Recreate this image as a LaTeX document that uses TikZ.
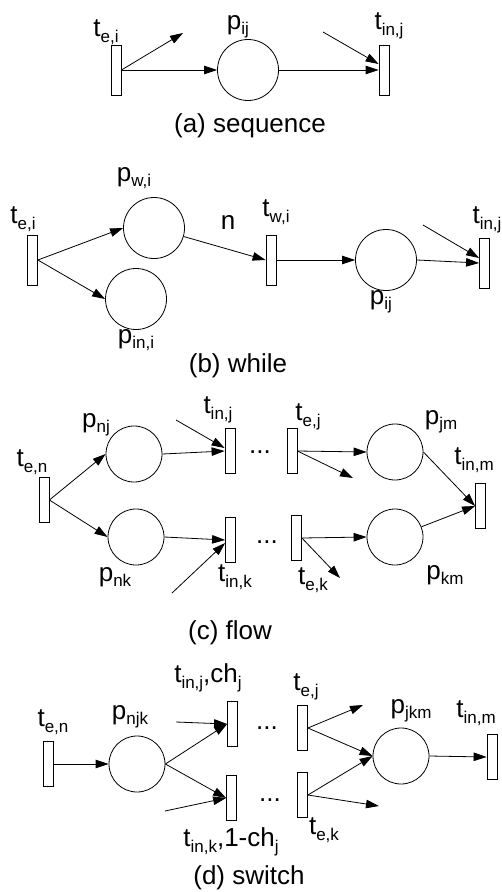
\documentclass[tikz,border=0pt]{standalone}
\usepackage{fontspec}
\setmainfont{Liberation Sans}
\usetikzlibrary{arrows.meta,calc}
\newcommand\sbs[1]{\raisebox{-5.5pt}{\fontsize{17}{17}\selectfont #1}}
\begin{document}
\begin{tikzpicture}[x=1pt,y=-1pt,
  tr/.style={draw, fill=white, line width=0.8pt, minimum width=10pt, minimum height=50pt, inner sep=0pt},
  trs/.style={tr, minimum height=45pt},
  pl/.style={draw, circle, line width=0.8pt, minimum size=61pt, inner sep=0pt},
  pls/.style={pl, minimum size=56pt},
  arr/.style={-{Triangle[length=13pt,width=8.5pt]}, line width=0.8pt},
  lbl/.style={font=\fontsize{26}{30}\selectfont, inner sep=0pt},
  dots/.style={font=\fontsize{26}{30}\selectfont, inner sep=0pt, anchor=base}]
\useasboundingbox (0,0) rectangle (502,892);
% (a)
\node[tr] (a1) at (116,70) {};
\node[pl] (a2) at (248,70) {};
\node[tr] (a3) at (384,70) {};
\coordinate (a1o) at (183,33);
\coordinate (a3i) at (323,32);
\draw[arr] (a1.east) -- (a1o);
\draw[arr] (a1.east) -- (a2.west);
\draw[arr] (a2.east) -- (a3.west);
\draw[arr] (a3i) -- ($(a3.west)+(0,-6)$);
\node[lbl] (a1l) at (106,32) {t\sbs{e,i}};
\node[lbl] (a2l) at (238,27) {p\sbs{ij}};
\node[lbl] (a3l) at (389,26) {t\sbs{in,j}};
\node[lbl] (acap) at (250,126) {(a) sequence};
% (b)
\node[tr] (b1) at (32.5,260) {};
\node[pl] (b2) at (154,228) {};
\node[pl] (b3) at (136,299) {};
\node[tr] (b4) at (271,260) {};
\node[pl] (b5) at (386,260) {};
\node[tr] (b6) at (484.5,263) {};
\coordinate (b6i) at (423,225);
\draw[arr] (b1.east) -- (b2.west);
\draw[arr] (b1.east) -- (b3.west);
\draw[arr] (b2) -- (b4.west);
\draw[arr] (b4.east) -- (b5.west);
\draw[arr] (b5.east) -- (b6.west);
\draw[arr] (b6i) -- ($(b6.west)+(0,-5)$);
\node[lbl] (b1l) at (23,219) {t\sbs{e,i}};
\node[lbl] (b2l) at (134,178) {p\sbs{w,i}};
\node[lbl] (b3l) at (136,340) {p\sbs{in,i}};
\node[lbl] (bn) at (228,222) {n};
\node[lbl] (b4l) at (276,212) {t\sbs{w,i}};
\node[lbl] (b5l) at (381,302) {p\sbs{ij}};
\node[lbl] (b6l) at (487,220) {t\sbs{in,j}};
\node[lbl] (bcap) at (238,366) {(b) while};
% (c)
\node[trs] (c1) at (44,500) {};
\node[pls] (c2) at (134,454) {};
\node[pls] (c3) at (136,537) {};
\node[trs] (c4) at (230,451) {};
\node[trs] (c5) at (230.5,540) {};
\node[trs] (c6) at (292,451) {};
\node[trs] (c7) at (296.5,538) {};
\node[pls] (c8) at (395,452) {};
\node[pls] (c9) at (395,537) {};
\node[trs] (c10) at (480.5,506) {};
\coordinate (c4i) at (176,420);
\coordinate (c5i) at (172,593);
\coordinate (c6o) at (353,478);
\coordinate (c7o) at (340,578);
\draw[arr] (c1.east) -- (c2.west);
\draw[arr] (c1.east) -- (c3.west);
\draw[arr] (c2.east) -- (c4.west);
\draw[arr] (c4i) -- ($(c4.west)+(0,-3)$);
\draw[arr] (c3.east) -- (c5.west);
\draw[arr] (c5i) -- ($(c5.west)+(0,3)$);
\draw[arr] (c6.east) -- (c8.west);
\draw[arr] (c6.east) -- (c6o);
\draw[arr] (c7.east) -- (c9.west);
\draw[arr] (c7.east) -- (c7o);
\draw[arr] (c8.east) -- (c10.west);
\draw[arr] (c9) -- (c10.west);
\node[dots] (cd1) at (260,453) {...};
\node[dots] (cd2) at (267,543) {...};
\node[lbl] (c1l) at (32,462) {t\sbs{e,n}};
\node[lbl] (c2l) at (96,425) {p\sbs{nj}};
\node[lbl] (c3l) at (115,577) {p\sbs{nk}};
\node[lbl] (c4l) at (218,410) {t\sbs{in,j}};
\node[lbl] (c5l) at (235,577) {t\sbs{in,k}};
\node[lbl] (c6l) at (308,417) {t\sbs{e,j}};
\node[lbl] (c7l) at (313,580) {t\sbs{e,k}};
\node[lbl] (c8l) at (441,422) {p\sbs{jm}};
\node[lbl] (c9l) at (445,575) {p\sbs{km}};
\node[lbl] (c10l) at (474,460) {t\sbs{in,m}};
\node[lbl] (ccap) at (230,633) {(c) flow};
% (d)
\node[trs] (d1) at (48.5,764) {};
\node[pls] (d2) at (137,764) {};
\node[trs] (d3) at (232.5,724) {};
\node[trs] (d4) at (231.5,798) {};
\node[trs] (d5) at (302.5,728) {};
\node[trs] (d6) at (302.5,795) {};
\node[pls] (d7) at (401,756) {};
\node[trs] (d8) at (492,757) {};
\coordinate (d3i) at (176,722);
\coordinate (d4i) at (165,811);
\coordinate (d5o) at (363,705);
\coordinate (d6o) at (379,806);
\draw[arr] (d1.east) -- (d2.west);
\draw[arr] (d2.east) -- (d3.west);
\draw[arr] (d2.east) -- (d4.west);
\draw[arr] (d3i) -- (d3.west);
\draw[arr] (d4i) -- (d4.west);
\draw[arr] (d5.east) -- (d5o);
\draw[arr] (d5.east) -- (d7.west);
\draw[arr] (d6.east) -- (d7.west);
\draw[arr] (d6.east) -- (d6o);
\draw[arr] (d7.east) -- (d8.west);
\node[dots] (dd1) at (267,729) {...};
\node[dots] (dd2) at (270,801) {...};
\node[lbl] (d1l) at (53,722) {t\sbs{e,n}};
\node[lbl] (d2l) at (130,717) {p\sbs{njk}};
\node[lbl] (d3l) at (208,678) {t\sbs{in,j},ch\sbs{j}};
\node[lbl] (d4l) at (231,842) {t\sbs{in,k},1-ch\sbs{j}};
\node[lbl] (d5l) at (306,687) {t\sbs{e,j}};
\node[lbl] (d6l) at (324,830) {t\sbs{e,k}};
\node[lbl] (d7l) at (411,711) {p\sbs{jkm}};
\node[lbl] (d8l) at (476,713) {t\sbs{in,m}};
\node[lbl] (dcap) at (249,878) {(d) switch};
\end{tikzpicture}
\end{document}
